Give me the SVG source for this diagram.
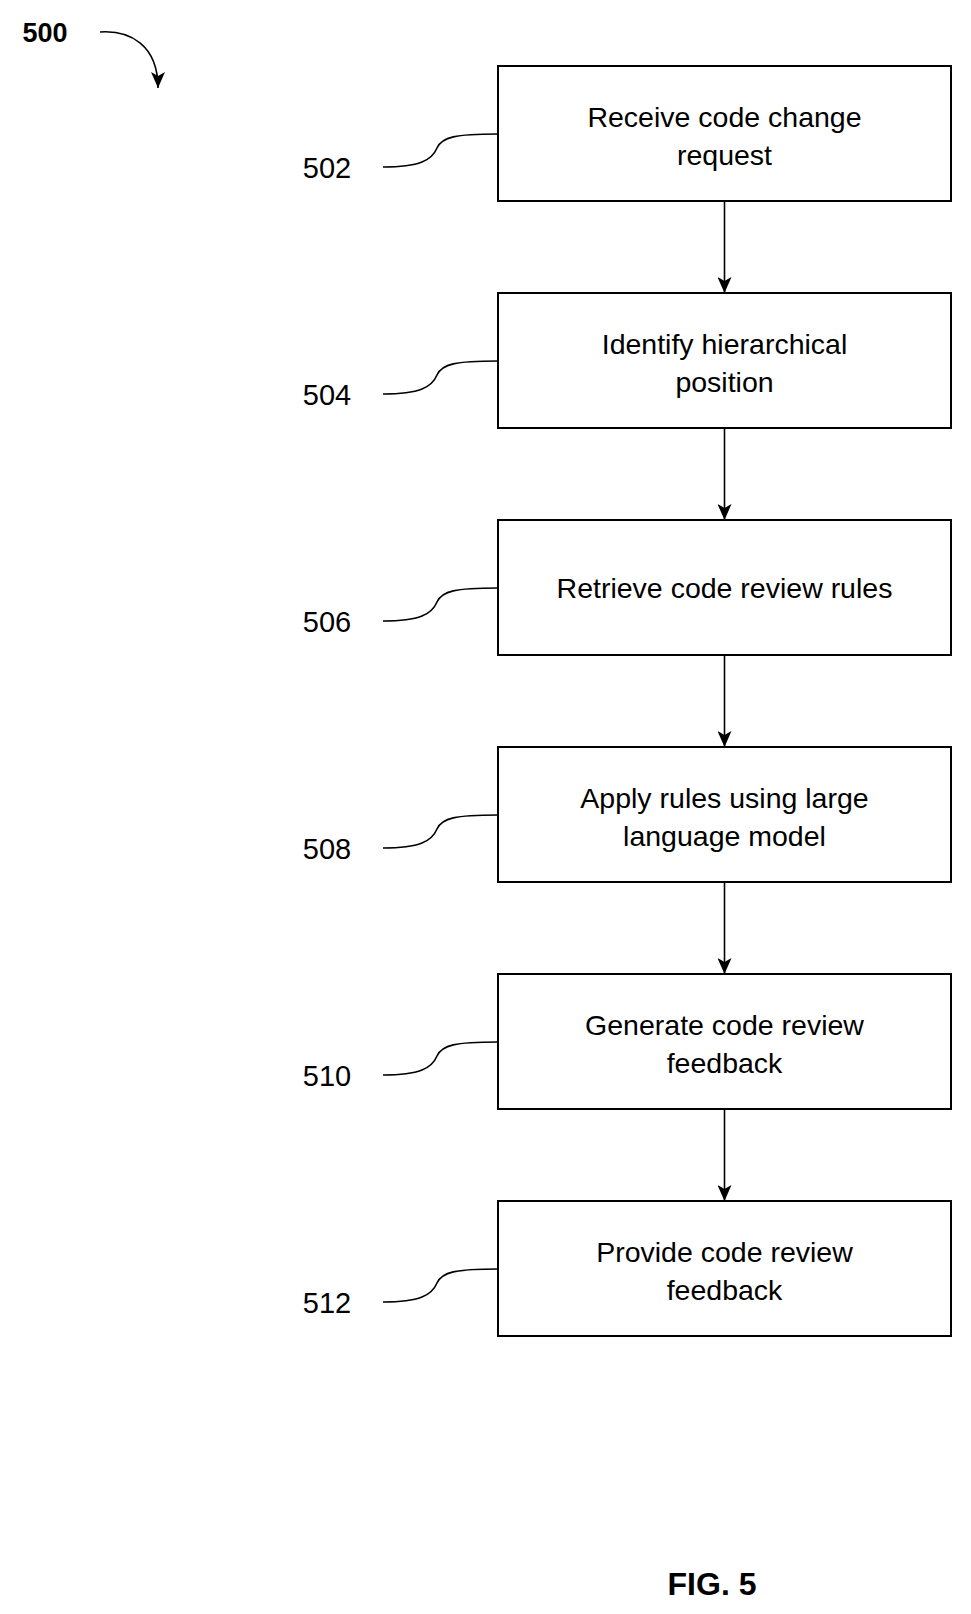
<svg xmlns="http://www.w3.org/2000/svg" width="971" height="1614" viewBox="0 0 971 1614">
<style>
.box{fill:#fff;stroke:#000;stroke-width:2}
.t{font-family:"Liberation Sans",Arial,sans-serif;font-size:28.5px;text-anchor:middle;fill:#000}
.lbl{font-family:"Liberation Sans",Arial,sans-serif;font-size:29px;text-anchor:middle;fill:#000}
.ld{fill:none;stroke:#000;stroke-width:1.6}
.c{fill:none;stroke:#000;stroke-width:1.6;marker-end:url(#ah)}
</style>
<defs>
<marker id="ah" markerWidth="16" markerHeight="14" refX="16" refY="7" orient="auto" markerUnits="userSpaceOnUse"><path d="M0,0 L16,7 L0,14 L4,7 Z" fill="#000"/></marker>
</defs>
<rect width="971" height="1614" fill="#fff"/>
<g id="title">
<text x="45" y="42" font-family="Liberation Sans,Arial,sans-serif" font-size="27" font-weight="bold" text-anchor="middle">500</text>
<path class="c" d="M100 32 C130 30 158 45 158 88"/>
</g>
<g id="n502"><rect class="box" x="498" y="66" width="453" height="135"/><text class="t" x="724.5" y="127">Receive code change</text><text class="t" x="724.5" y="165">request</text><text class="lbl" x="327" y="178">502</text><path class="ld" d="M383 167 C420 167 432 160 437 148 C442 137 455 134 498 134"/></g>
<g id="n504"><rect class="box" x="498" y="293" width="453" height="135"/><text class="t" x="724.5" y="354">Identify hierarchical</text><text class="t" x="724.5" y="392">position</text><text class="lbl" x="327" y="405">504</text><path class="ld" d="M383 394 C420 394 432 387 437 375 C442 364 455 361 498 361"/></g>
<g id="n506"><rect class="box" x="498" y="520" width="453" height="135"/><text class="t" x="724.5" y="598">Retrieve code review rules</text><text class="lbl" x="327" y="632">506</text><path class="ld" d="M383 621 C420 621 432 614 437 602 C442 591 455 588 498 588"/></g>
<g id="n508"><rect class="box" x="498" y="747" width="453" height="135"/><text class="t" x="724.5" y="808">Apply rules using large</text><text class="t" x="724.5" y="846">language model</text><text class="lbl" x="327" y="859">508</text><path class="ld" d="M383 848 C420 848 432 841 437 829 C442 818 455 815 498 815"/></g>
<g id="n510"><rect class="box" x="498" y="974" width="453" height="135"/><text class="t" x="724.5" y="1035">Generate code review</text><text class="t" x="724.5" y="1073">feedback</text><text class="lbl" x="327" y="1086">510</text><path class="ld" d="M383 1075 C420 1075 432 1068 437 1056 C442 1045 455 1042 498 1042"/></g>
<g id="n512"><rect class="box" x="498" y="1201" width="453" height="135"/><text class="t" x="724.5" y="1262">Provide code review</text><text class="t" x="724.5" y="1300">feedback</text><text class="lbl" x="327" y="1313">512</text><path class="ld" d="M383 1302 C420 1302 432 1295 437 1283 C442 1272 455 1269 498 1269"/></g>
<g id="connectors">
<path class="c" d="M724.5 201 V293"/>
<path class="c" d="M724.5 428 V520"/>
<path class="c" d="M724.5 655 V747"/>
<path class="c" d="M724.5 882 V974"/>
<path class="c" d="M724.5 1109 V1201"/>
</g>
<text x="712" y="1595" font-family="Liberation Sans,Arial,sans-serif" font-size="32" font-weight="bold" text-anchor="middle">FIG. 5</text>
</svg>
